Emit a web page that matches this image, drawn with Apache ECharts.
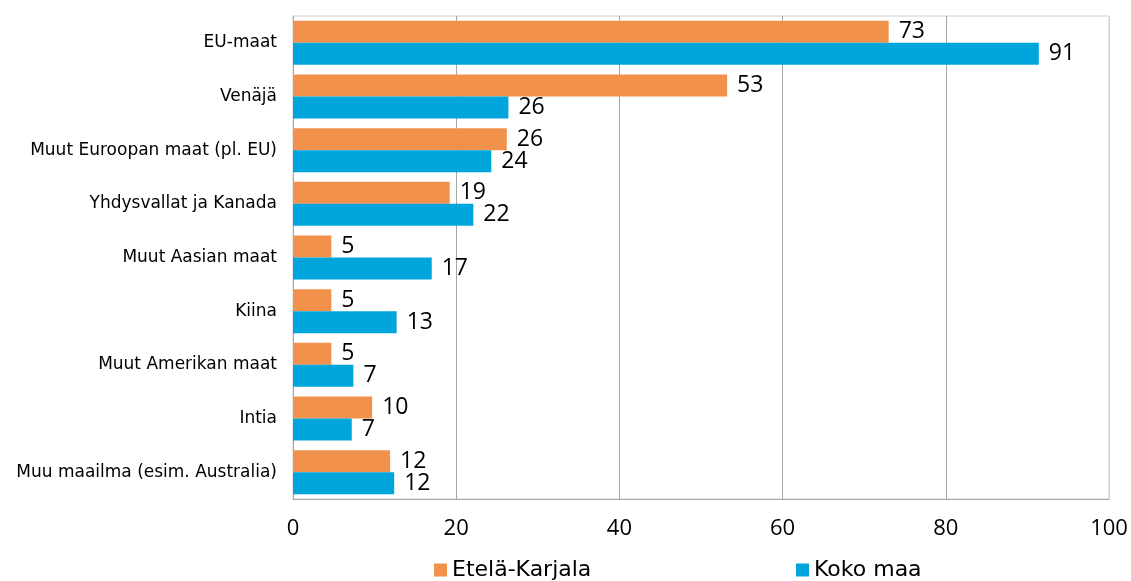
<!DOCTYPE html>
<html>
<head>
<meta charset="utf-8">
<script src="https://cdn.jsdelivr.net/npm/echarts@6/dist/echarts.min.js"></script>
<style>
  html, body { margin: 0; padding: 0; background: #fff; }
  #main { width: 1131px; height: 581px; }
</style>
</head>
<body>
<div id="main"></div>
<script>
// alueet ylhäältä alas
var categories = ['EU-maat', 'Venäjä', 'Muut Euroopan maat (pl. EU)', 'Yhdysvallat ja Kanada',
  'Muut Aasian maat', 'Kiina', 'Muut Amerikan maat', 'Intia', 'Muu maailma (esim. Australia)']
var etelaKarjala = [73, 53.2, 26.2, 19.2, 4.7, 4.7, 4.7, 9.7, 11.9]
var kokoMaa = [91.4, 26.4, 24.3, 22.1, 17, 12.7, 7.4, 7.2, 12.4]
var xTicks = [0, 20, 40, 60, 80, 100]

var chart = echarts.init(document.getElementById('main'))

var numFont = 'Open Sans'

var labelStyle = {
  show: true,
  position: 'right',
  distance: 10,
  color: '#000',
  fontFamily: numFont,
  fontSize: 23,
  formatter: function (p) { return Math.round(p.value) }
}

var legendText = { fontFamily: 'DejaVu Sans', fontSize: 22, color: '#000' }

var option = {
  animation: false,
  grid: {
    left: 293, right: 22, top: 16, bottom: 82,
    show: true, borderColor: '#d0d0d0', borderWidth: 1
  },
  legend: [
    {
      data: ['Etelä-Karjala'], left: 434, top: 559, padding: 0,
      itemWidth: 13, itemHeight: 13, icon: 'rect',
      textStyle: legendText
    },
    {
      data: ['Koko maa'], left: 796, top: 559, padding: 0,
      itemWidth: 13, itemHeight: 13, icon: 'rect',
      textStyle: legendText
    }
  ],
  xAxis: {
    type: 'value', min: 0, max: 100, interval: 20,
    axisLine: { show: true, lineStyle: { color: '#a6a6a6' } },
    axisTick: { show: false },
    axisLabel: {
      margin: 19, color: '#000', fontFamily: numFont, fontSize: 22,
      formatter: function (v) { return xTicks.indexOf(v) >= 0 ? String(v) : '' }
    },
    splitLine: {
      show: true,
      lineStyle: { color: ['#a6a6a6', '#a6a6a6', '#a6a6a6', '#a6a6a6', '#a6a6a6', '#d0d0d0'] }
    }
  },
  yAxis: {
    type: 'category', data: categories, inverse: true,
    axisLine: { show: true, lineStyle: { color: '#a6a6a6' } },
    axisTick: { show: false },
    axisLabel: { margin: 16, color: '#000', fontFamily: 'DejaVu Sans', fontSize: 17 }
  },
  series: [
    {
      name: 'Etelä-Karjala', type: 'bar', data: etelaKarjala,
      itemStyle: { color: '#F1914B' },
      barGap: '0%', barCategoryGap: '18%',
      label: labelStyle
    },
    {
      name: 'Koko maa', type: 'bar', data: kokoMaa,
      itemStyle: { color: '#00A5DB' },
      barGap: '0%', barCategoryGap: '18%',
      label: labelStyle
    }
  ]
}
chart.setOption(option)
</script>
</body>
</html>
